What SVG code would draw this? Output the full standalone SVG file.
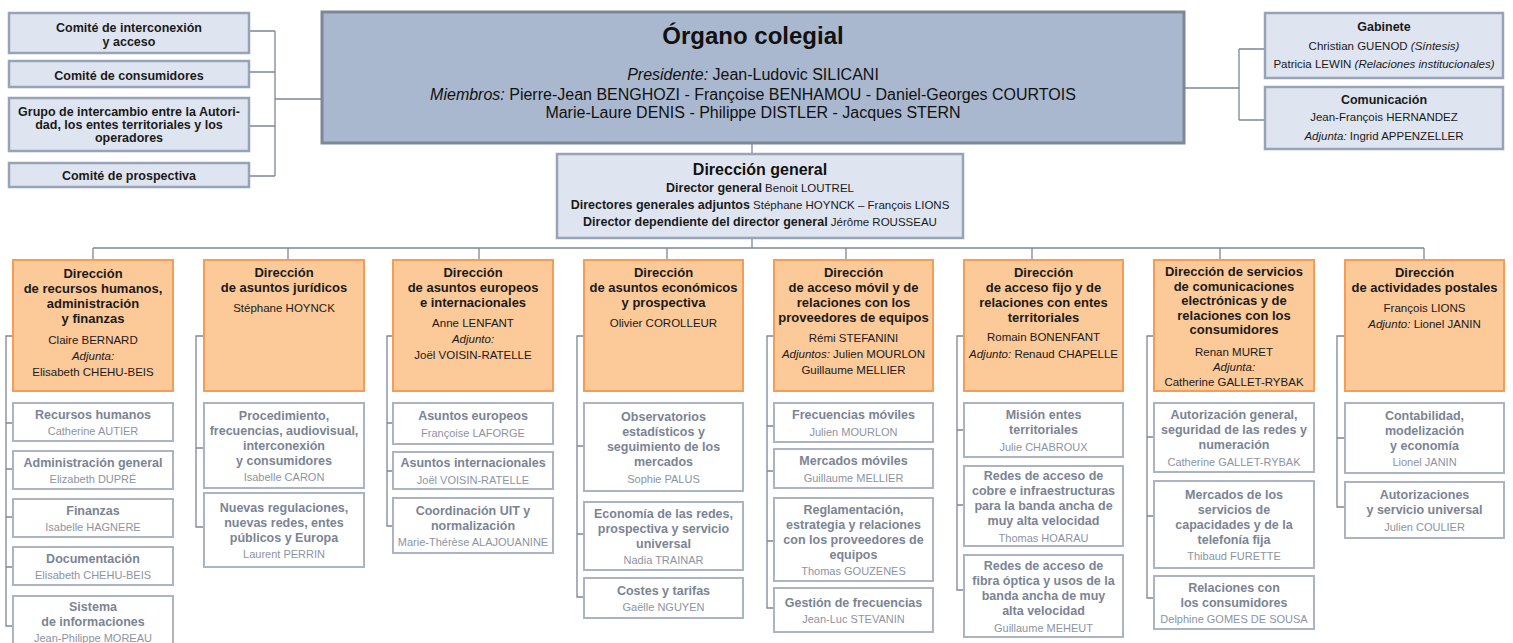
<svg xmlns="http://www.w3.org/2000/svg" width="1513" height="643" viewBox="0 0 1513 643">
<style>
text{font-family:"Liberation Sans",Arial,Helvetica,sans-serif;text-anchor:middle}
.org{fill:#a9b8ce;stroke:#7c8798;stroke-width:3}
.lt{fill:#dfe5f0;stroke:#97a3b6;stroke-width:2.5}
.dir{fill:#fcc999;stroke:#f59d57;stroke-width:2}
.sub{fill:#ffffff;stroke:#aab4c5;stroke-width:2}
.ln{fill:none;stroke:#7d8797;stroke-width:1.3}
.b{font-weight:bold}
.i{font-style:italic}
.ct{font-size:12.5px;font-weight:bold;fill:#1a1a1a}
.cn{font-size:11.5px;fill:#1a1a1a}
.dt{font-size:13px;font-weight:bold;fill:#1a1a1a}
.dn{font-size:11.5px;fill:#1a1a1a}
.st{font-size:12.5px;font-weight:bold;fill:#7b8493}
.sn{font-size:11px;fill:#8c94a2}
</style>

<g id="connectors">
  <path class="ln" d="M249 31H275M249 72H275M249 126H275M249 176H275M275 31V176M275 99H322"/>
  <path class="ln" d="M1184 88H1239M1239 49V120M1239 49H1265M1239 120H1265"/>
  <path class="ln" d="M752 143V154M752 238V248M93 248H1424"/>
  <path class="ln" d="M93 248V260M288 248V260M479 248V260M667 248V260M846 248V260M1032 248V260M1220 248V260M1424 248V260"/>
  <path class="ln" d="M13 336H6V626H13M6 423H13M6 469H13M6 517H13M6 567H13"/>
  <path class="ln" d="M204 336H196V527H204M196 448H204"/>
  <path class="ln" d="M393 336H387V526H393M387 423H393M387 471H393"/>
  <path class="ln" d="M584 336H577V597H584M577 446H584M577 534H584"/>
  <path class="ln" d="M774 336H767V608H774M767 426H774M767 471H774M767 541H774"/>
  <path class="ln" d="M964 336H957V590H964M957 430H964M957 505H964"/>
  <path class="ln" d="M1154 336H1147V598H1154M1147 437H1154M1147 516H1154"/>
  <path class="ln" d="M1345 336H1337V507H1345M1337 438H1345"/>
</g>

<g id="comite-interconexion">
  <rect class="lt" x="9" y="13" width="240" height="40"/>
  <text class="ct" x="129" y="31.5">Comité de interconexión</text>
  <text class="ct" x="129" y="45.5">y acceso</text>
</g>
<g id="comite-consumidores">
  <rect class="lt" x="9" y="61" width="240" height="26"/>
  <text class="ct" x="129" y="79.5">Comité de consumidores</text>
</g>
<g id="grupo-intercambio">
  <rect class="lt" x="9" y="98" width="240" height="53"/>
  <text class="ct" x="129" y="116">Grupo de intercambio entre la Autori-</text>
  <text class="ct" x="129" y="129">dad, los entes territoriales y los</text>
  <text class="ct" x="129" y="142">operadores</text>
</g>
<g id="comite-prospectiva">
  <rect class="lt" x="9" y="163" width="240" height="24"/>
  <text class="ct" x="129" y="180">Comité de prospectiva</text>
</g>

<g id="organo-colegial">
  <rect class="org" x="322" y="12" width="862" height="131"/>
  <text x="753" y="44" style="font-size:24px;font-weight:bold;fill:#111">Órgano colegial</text>
  <text x="753" y="80" style="font-size:16px;fill:#111"><tspan class="i">Presidente:</tspan>  Jean-Ludovic SILICANI</text>
  <text x="753" y="100" style="font-size:16px;fill:#111"><tspan class="i">Miembros:</tspan> Pierre-Jean BENGHOZI - Françoise BENHAMOU - Daniel-Georges COURTOIS</text>
  <text x="753" y="118" style="font-size:16px;fill:#111">Marie-Laure DENIS - Philippe DISTLER - Jacques STERN</text>
</g>

<g id="gabinete">
  <rect class="lt" x="1265" y="13" width="238" height="65"/>
  <text class="ct" x="1384" y="31">Gabinete</text>
  <text class="cn" x="1384" y="50">Christian GUENOD <tspan class="i">(Síntesis)</tspan></text>
  <text class="cn" x="1384" y="68">Patricia LEWIN <tspan class="i">(Relaciones institucionales)</tspan></text>
</g>
<g id="comunicacion">
  <rect class="lt" x="1265" y="87" width="238" height="62"/>
  <text class="ct" x="1384" y="104">Comunicación</text>
  <text class="cn" x="1384" y="121">Jean-François HERNANDEZ</text>
  <text class="cn" x="1384" y="140"><tspan class="i">Adjunta:</tspan>  Ingrid APPENZELLER</text>
</g>

<g id="direccion-general">
  <rect class="lt" x="557" y="154" width="406" height="84"/>
  <text x="760" y="175" style="font-size:16px;font-weight:bold;fill:#111">Dirección general</text>
  <text class="cn" x="760" y="192"><tspan class="b" style="font-size:12.5px">Director general</tspan> Benoit LOUTREL</text>
  <text class="cn" x="760" y="209"><tspan class="b" style="font-size:12.5px">Directores generales adjuntos</tspan> Stéphane HOYNCK – François LIONS</text>
  <text class="cn" x="760" y="226"><tspan class="b" style="font-size:12.5px">Director dependiente del director general</tspan> Jérôme ROUSSEAU</text>
</g>

<!-- Column 1 -->
<g id="dir-rrhh">
  <rect class="dir" x="13" y="260" width="160" height="131"/>
  <text class="dt" x="93" y="278">Dirección</text>
  <text class="dt" x="93" y="293">de recursos humanos,</text>
  <text class="dt" x="93" y="308">administración</text>
  <text class="dt" x="93" y="323">y finanzas</text>
  <text class="dn" x="93" y="344">Claire BERNARD</text>
  <text class="dn i" x="93" y="360">Adjunta:</text>
  <text class="dn" x="93" y="376">Elisabeth CHEHU-BEIS</text>
</g>
<g id="rrhh-recursos">
  <rect class="sub" x="13" y="403" width="160" height="38"/>
  <text class="st" x="93" y="418.5">Recursos humanos</text>
  <text class="sn" x="93" y="435">Catherine AUTIER</text>
</g>
<g id="rrhh-administracion">
  <rect class="sub" x="13" y="451" width="160" height="38"/>
  <text class="st" x="93" y="466.5">Administración general</text>
  <text class="sn" x="93" y="483">Elizabeth DUPRÉ</text>
</g>
<g id="rrhh-finanzas">
  <rect class="sub" x="13" y="499" width="160" height="38"/>
  <text class="st" x="93" y="514.5">Finanzas</text>
  <text class="sn" x="93" y="531">Isabelle HAGNERE</text>
</g>
<g id="rrhh-documentacion">
  <rect class="sub" x="13" y="547" width="160" height="38"/>
  <text class="st" x="93" y="562.5">Documentación</text>
  <text class="sn" x="93" y="579">Elisabeth CHEHU-BEIS</text>
</g>
<g id="rrhh-sistema">
  <rect class="sub" x="13" y="596" width="160" height="56"/>
  <text class="st" x="93" y="611">Sistema</text>
  <text class="st" x="93" y="626">de informaciones</text>
  <text class="sn" x="93" y="641.5">Jean-Philippe MOREAU</text>
</g>

<!-- Column 2 -->
<g id="dir-juridicos">
  <rect class="dir" x="204" y="260" width="160" height="131"/>
  <text class="dt" x="284" y="277">Dirección</text>
  <text class="dt" x="284" y="292">de asuntos jurídicos</text>
  <text class="dn" x="284" y="312">Stéphane HOYNCK</text>
</g>
<g id="jur-procedimiento">
  <rect class="sub" x="204" y="403" width="160" height="85"/>
  <text class="st" x="284" y="419.5">Procedimiento,</text>
  <text class="st" x="284" y="434.5">frecuencias, audiovisual,</text>
  <text class="st" x="284" y="449.5">interconexión</text>
  <text class="st" x="284" y="464.5">y consumidores</text>
  <text class="sn" x="284" y="481">Isabelle CARON</text>
</g>
<g id="jur-nuevas">
  <rect class="sub" x="204" y="493" width="160" height="74"/>
  <text class="st" x="284" y="511.5">Nuevas regulaciones,</text>
  <text class="st" x="284" y="526.5">nuevas redes, entes</text>
  <text class="st" x="284" y="541.5">públicos y Europa</text>
  <text class="sn" x="284" y="558">Laurent PERRIN</text>
</g>

<!-- Column 3 -->
<g id="dir-europeos">
  <rect class="dir" x="393" y="260" width="160" height="131"/>
  <text class="dt" x="473" y="277">Dirección</text>
  <text class="dt" x="473" y="292">de asuntos europeos</text>
  <text class="dt" x="473" y="307">e internacionales</text>
  <text class="dn" x="473" y="327">Anne LENFANT</text>
  <text class="dn i" x="473" y="343">Adjunto:</text>
  <text class="dn" x="473" y="359">Joël VOISIN-RATELLE</text>
</g>
<g id="eur-europeos">
  <rect class="sub" x="393" y="403" width="160" height="41"/>
  <text class="st" x="473" y="420">Asuntos europeos</text>
  <text class="sn" x="473" y="436.5">Françoise LAFORGE</text>
</g>
<g id="eur-internacionales">
  <rect class="sub" x="393" y="452" width="160" height="37"/>
  <text class="st" x="473" y="467">Asuntos internacionales</text>
  <text class="sn" x="473" y="483.5">Joël VOISIN-RATELLE</text>
</g>
<g id="eur-uit">
  <rect class="sub" x="393" y="498" width="160" height="55"/>
  <text class="st" x="473" y="514.5">Coordinación UIT y</text>
  <text class="st" x="473" y="529.5">normalización</text>
  <text class="sn" x="473" y="546">Marie-Thérèse ALAJOUANINE</text>
</g>

<!-- Column 4 -->
<g id="dir-economicos">
  <rect class="dir" x="584" y="260" width="159" height="131"/>
  <text class="dt" x="663.5" y="277">Dirección</text>
  <text class="dt" x="663.5" y="292">de asuntos económicos</text>
  <text class="dt" x="663.5" y="307">y prospectiva</text>
  <text class="dn" x="663.5" y="327">Olivier COROLLEUR</text>
</g>
<g id="eco-observatorios">
  <rect class="sub" x="584" y="403" width="159" height="88"/>
  <text class="st" x="663.5" y="421">Observatorios</text>
  <text class="st" x="663.5" y="436">estadísticos y</text>
  <text class="st" x="663.5" y="451">seguimiento de los</text>
  <text class="st" x="663.5" y="466">mercados</text>
  <text class="sn" x="663.5" y="482.5">Sophie PALUS</text>
</g>
<g id="eco-economia">
  <rect class="sub" x="584" y="502" width="159" height="68"/>
  <text class="st" x="663.5" y="517.5">Economía de las redes,</text>
  <text class="st" x="663.5" y="532.5">prospectiva y servicio</text>
  <text class="st" x="663.5" y="547.5">universal</text>
  <text class="sn" x="663.5" y="564">Nadia TRAINAR</text>
</g>
<g id="eco-costes">
  <rect class="sub" x="584" y="578" width="159" height="40"/>
  <text class="st" x="663.5" y="594.5">Costes y tarifas</text>
  <text class="sn" x="663.5" y="611">Gaëlle NGUYEN</text>
</g>

<!-- Column 5 -->
<g id="dir-movil">
  <rect class="dir" x="774" y="260" width="159" height="131"/>
  <text class="dt" x="853.5" y="277">Dirección</text>
  <text class="dt" x="853.5" y="292">de acceso móvil y de</text>
  <text class="dt" x="853.5" y="307">relaciones con los</text>
  <text class="dt" x="853.5" y="322">proveedores de equipos</text>
  <text class="dn" x="853.5" y="341.5">Rémi STEFANINI</text>
  <text class="dn" x="853.5" y="358"><tspan class="i">Adjuntos:</tspan> Julien MOURLON</text>
  <text class="dn" x="853.5" y="374">Guillaume MELLIER</text>
</g>
<g id="mov-frecuencias">
  <rect class="sub" x="774" y="403" width="159" height="39"/>
  <text class="st" x="853.5" y="419">Frecuencias móviles</text>
  <text class="sn" x="853.5" y="435.5">Julien MOURLON</text>
</g>
<g id="mov-mercados">
  <rect class="sub" x="774" y="449" width="159" height="39"/>
  <text class="st" x="853.5" y="465">Mercados móviles</text>
  <text class="sn" x="853.5" y="481.5">Guillaume MELLIER</text>
</g>
<g id="mov-reglamentacion">
  <rect class="sub" x="774" y="498" width="159" height="83"/>
  <text class="st" x="853.5" y="513.5">Reglamentación,</text>
  <text class="st" x="853.5" y="528.5">estrategia y relaciones</text>
  <text class="st" x="853.5" y="543.5">con los proveedores de</text>
  <text class="st" x="853.5" y="558.5">equipos</text>
  <text class="sn" x="853.5" y="575">Thomas GOUZENES</text>
</g>
<g id="mov-gestion">
  <rect class="sub" x="774" y="588" width="159" height="44"/>
  <text class="st" x="853.5" y="606.5">Gestión de frecuencias</text>
  <text class="sn" x="853.5" y="623">Jean-Luc STEVANIN</text>
</g>

<!-- Column 6 -->
<g id="dir-fijo">
  <rect class="dir" x="964" y="260" width="159" height="131"/>
  <text class="dt" x="1043.5" y="277">Dirección</text>
  <text class="dt" x="1043.5" y="292">de acceso fijo y de</text>
  <text class="dt" x="1043.5" y="307">relaciones con entes</text>
  <text class="dt" x="1043.5" y="321.5">territoriales</text>
  <text class="dn" x="1043.5" y="341">Romain BONENFANT</text>
  <text class="dn" x="1043.5" y="358"><tspan class="i">Adjunto:</tspan> Renaud CHAPELLE</text>
</g>
<g id="fijo-mision">
  <rect class="sub" x="964" y="403" width="159" height="54"/>
  <text class="st" x="1043.5" y="419">Misión entes</text>
  <text class="st" x="1043.5" y="434">territoriales</text>
  <text class="sn" x="1043.5" y="450.5">Julie CHABROUX</text>
</g>
<g id="fijo-cobre">
  <rect class="sub" x="964" y="466" width="159" height="80"/>
  <text class="st" x="1043.5" y="480">Redes de acceso de</text>
  <text class="st" x="1043.5" y="495">cobre e infraestructuras</text>
  <text class="st" x="1043.5" y="510">para la banda ancha de</text>
  <text class="st" x="1043.5" y="525">muy alta velocidad</text>
  <text class="sn" x="1043.5" y="541.5">Thomas HOARAU</text>
</g>
<g id="fijo-fibra">
  <rect class="sub" x="964" y="555" width="159" height="82"/>
  <text class="st" x="1043.5" y="570">Redes de acceso de</text>
  <text class="st" x="1043.5" y="585">fibra óptica y usos de la</text>
  <text class="st" x="1043.5" y="600">banda ancha de muy</text>
  <text class="st" x="1043.5" y="615">alta velocidad</text>
  <text class="sn" x="1043.5" y="631.5">Guillaume MEHEUT</text>
</g>

<!-- Column 7 -->
<g id="dir-servicios">
  <rect class="dir" x="1154" y="260" width="160" height="131"/>
  <text class="dt" x="1234" y="276">Dirección de servicios</text>
  <text class="dt" x="1234" y="290.5">de comunicaciones</text>
  <text class="dt" x="1234" y="305">electrónicas y de</text>
  <text class="dt" x="1234" y="319.5">relaciones con los</text>
  <text class="dt" x="1234" y="334">consumidores</text>
  <text class="dn" x="1234" y="356">Renan MURET</text>
  <text class="dn i" x="1234" y="371">Adjunta:</text>
  <text class="dn" x="1234" y="386">Catherine GALLET-RYBAK</text>
</g>
<g id="serv-autorizacion">
  <rect class="sub" x="1154" y="403" width="160" height="69"/>
  <text class="st" x="1234" y="419">Autorización general,</text>
  <text class="st" x="1234" y="434">seguridad de las redes y</text>
  <text class="st" x="1234" y="449">numeración</text>
  <text class="sn" x="1234" y="465.5">Catherine GALLET-RYBAK</text>
</g>
<g id="serv-mercados">
  <rect class="sub" x="1154" y="481" width="160" height="87"/>
  <text class="st" x="1234" y="498.5">Mercados de los</text>
  <text class="st" x="1234" y="513.5">servicios de</text>
  <text class="st" x="1234" y="528.5">capacidades y de la</text>
  <text class="st" x="1234" y="543.5">telefonía fija</text>
  <text class="sn" x="1234" y="560">Thibaud FURETTE</text>
</g>
<g id="serv-relaciones">
  <rect class="sub" x="1154" y="576" width="160" height="53"/>
  <text class="st" x="1234" y="591.5">Relaciones con</text>
  <text class="st" x="1234" y="606.5">los consumidores</text>
  <text class="sn" x="1234" y="623">Delphine GOMES DE SOUSA</text>
</g>

<!-- Column 8 -->
<g id="dir-postales">
  <rect class="dir" x="1345" y="260" width="159" height="131"/>
  <text class="dt" x="1424.5" y="277">Dirección</text>
  <text class="dt" x="1424.5" y="292">de actividades postales</text>
  <text class="dn" x="1424.5" y="312">François LIONS</text>
  <text class="dn" x="1424.5" y="328"><tspan class="i">Adjunto:</tspan> Lionel JANIN</text>
</g>
<g id="post-contabilidad">
  <rect class="sub" x="1345" y="403" width="159" height="70"/>
  <text class="st" x="1424.5" y="419.5">Contabilidad,</text>
  <text class="st" x="1424.5" y="434.5">modelización</text>
  <text class="st" x="1424.5" y="449.5">y economía</text>
  <text class="sn" x="1424.5" y="466">Lionel JANIN</text>
</g>
<g id="post-autorizaciones">
  <rect class="sub" x="1345" y="482" width="159" height="56"/>
  <text class="st" x="1424.5" y="499">Autorizaciones</text>
  <text class="st" x="1424.5" y="514">y servicio universal</text>
  <text class="sn" x="1424.5" y="530.5">Julien COULIER</text>
</g>
</svg>
